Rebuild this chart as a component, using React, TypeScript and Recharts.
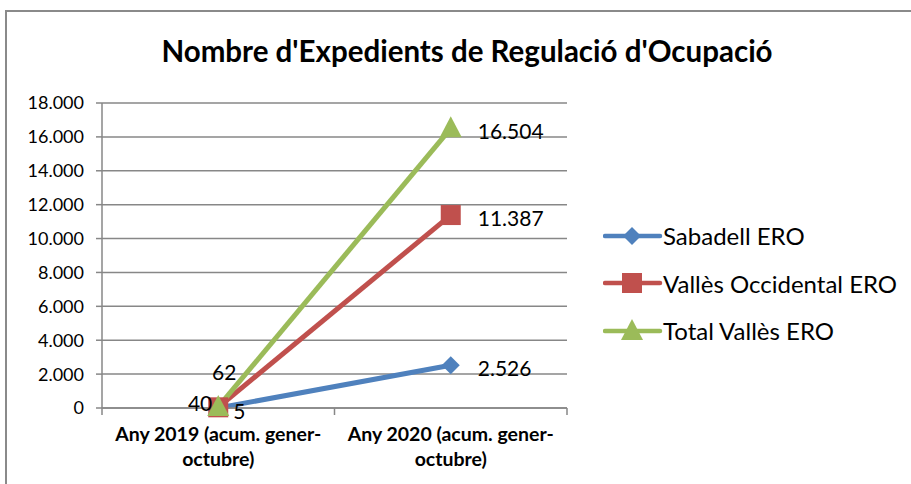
import React from "react";
import { CartesianGrid, ComposedChart, Line, XAxis, YAxis } from "recharts";

const categories = ["Any 2019 (acum. gener-octubre)", "Any 2020 (acum. gener-octubre)"];
const categoryLines = [
  ["Any 2019 (acum. gener-", "octubre)"],
  ["Any 2020 (acum. gener-", "octubre)"],
];
const sabadell = [5, 2526];
const vallesOccidental = [40, 11387];
const totalValles = [62, 16504];
const yTicks = [0, 2000, 4000, 6000, 8000, 10000, 12000, 14000, 16000, 18000];

const W = 911;
const H = 484;
const PLOT_LEFT = 102;
const PLOT_RIGHT = 567;
const PLOT_TOP = 103;
const PLOT_BOTTOM = 408;
const HALF_BAND = (PLOT_RIGHT - PLOT_LEFT) / categories.length / 2;
const FONT = "Lato, 'Open Sans', sans-serif";
const GRID = "#878787";

const data = categories.map((c, i) => ({
  cat: c,
  sab: sabadell[i],
  vo: vallesOccidental[i],
  tot: totalValles[i],
}));

const fmt = (v: number) => v.toString().replace(/\B(?=(\d{3})+(?!\d))/g, ".");

type Shape = "diamond" | "square" | "triangle";

const series: {
  key: string;
  name: string;
  color: string;
  shape: Shape;
  // label offsets per point: dx, dy, anchor
  labels: [number, number, "start" | "middle" | "end"][];
}[] = [
  { key: "sab", name: "Sabadell ERO", color: "#4F81BD", shape: "diamond", labels: [[15, 3, "start"], [27, 2, "start"]] },
  { key: "vo", name: "Vallès Occidental ERO", color: "#C0504D", shape: "square", labels: [[-6, -5, "end"], [27, 2, "start"]] },
  { key: "tot", name: "Total Vallès ERO", color: "#9BBB59", shape: "triangle", labels: [[6, -35, "middle"], [27, 2, "start"]] },
];

function Marker({ cx, cy, shape, color }: { cx: number; cy: number; shape: Shape; color: string }) {
  if (shape === "diamond") {
    return <polygon points={`${cx},${cy - 9} ${cx + 9},${cy} ${cx},${cy + 9} ${cx - 9},${cy}`} fill={color} />;
  }
  if (shape === "square") {
    return <rect x={cx - 10} y={cy - 10} width={20} height={20} fill={color} />;
  }
  return <polygon points={`${cx},${cy - 12} ${cx + 11},${cy + 9} ${cx - 11},${cy + 9}`} fill={color} />;
}

function XTick(props: { x?: number; y?: number; index?: number }) {
  const { x = 0, y = 0, index = 0 } = props;
  const lines = categoryLines[index];
  return (
    <g>
      <line x1={x - HALF_BAND} x2={x - HALF_BAND} y1={y - 8} y2={y - 1} stroke={GRID} strokeWidth={1.5} />
      {index === categories.length - 1 ? (
        <line x1={x + HALF_BAND} x2={x + HALF_BAND} y1={y - 8} y2={y - 1} stroke={GRID} strokeWidth={1.5} />
      ) : null}
      {lines.map((l, i) => (
        <text
          key={i}
          x={x}
          y={y + 25 + i * 25}
          textAnchor="middle"
          fontFamily={FONT}
          fontWeight={700}
          fontSize={19.5}
          fill="#000"
        >
          {l}
        </text>
      ))}
    </g>
  );
}

function LegendBox() {
  return (
    <div style={{ fontFamily: FONT, fontSize: 24, color: "#000" }}>
      {series.map((s) => (
        <div key={s.key} style={{ display: "flex", alignItems: "center", height: 47.5 }}>
          <svg width={60} height={24} style={{ display: "block" }}>
            <line x1={2} x2={57} y1={12} y2={12} stroke={s.color} strokeWidth={4.5} strokeLinecap="round" />
            <Marker cx={29} cy={12} shape={s.shape} color={s.color} />
          </svg>
          <span style={{ whiteSpace: "nowrap" }}>{s.name}</span>
        </div>
      ))}
    </div>
  );
}

export default function App() {
  return (
    <div style={{ position: "absolute", left: 0, top: 0, width: W, height: H, background: "#fff", overflow: "hidden" }}>
      <div
        style={{
          position: "absolute",
          left: 5,
          top: 10,
          width: W + 20,
          height: H + 20,
          border: "2px solid #8a8a8a",
          boxSizing: "border-box",
        }}
      />
      <div
        style={{
          position: "absolute",
          left: 0,
          width: 934,
          top: 33,
          textAlign: "center",
          fontFamily: FONT,
          fontWeight: 700,
          fontSize: 29.5,
          color: "#000",
        }}
      >
        Nombre d'Expedients de Regulació d'Ocupació
      </div>
      <div style={{ position: "absolute", left: 603, top: 212 }}>
        <LegendBox />
      </div>
      <ComposedChart
        width={W}
        height={H}
        data={data}
        margin={{ top: PLOT_TOP, left: 0, right: W - PLOT_RIGHT, bottom: 0 }}
        style={{ position: "absolute", left: 0, top: 0 }}
      >
        <CartesianGrid vertical={false} stroke={GRID} strokeWidth={1.5} />
        <XAxis
          dataKey="cat"
          type="category"
          scale="band"
          height={H - PLOT_BOTTOM}
          axisLine={{ stroke: GRID, strokeWidth: 1.5 }}
          tickLine={false}
          tick={<XTick />}
          interval={0}
        />
        <YAxis
          type="number"
          domain={[0, 18000]}
          ticks={yTicks}
          width={PLOT_LEFT}
          tickFormatter={fmt}
          axisLine={{ stroke: GRID, strokeWidth: 1.5 }}
          tickLine={{ stroke: GRID, strokeWidth: 1.5 }}
          tickSize={6}
          tickMargin={12}
          tick={{ fill: "#000", fontSize: 18, fontFamily: FONT }}
        />
        {series.map((s) => (
          <Line
            key={s.key}
            dataKey={s.key}
            name={s.name}
            type="linear"
            stroke={s.color}
            strokeWidth={5}
            isAnimationActive={false}
            dot={(p: { cx?: number; cy?: number; index?: number }) => (
              <Marker key={`${s.key}-${p.index}`} cx={p.cx ?? 0} cy={p.cy ?? 0} shape={s.shape} color={s.color} />
            )}
            activeDot={false}
            label={(p: { x?: number; y?: number; value?: number; index?: number }) => {
              const [dx, dy, anchor] = s.labels[p.index ?? 0];
              return (
                <text
                  key={`${s.key}-l${p.index}`}
                  x={(p.x ?? 0) + dx}
                  y={(p.y ?? 0) + dy}
                  textAnchor={anchor}
                  dominantBaseline="central"
                  fontFamily={FONT}
                  fontSize={21}
                  fill="#000"
                >
                  {fmt(p.value ?? 0)}
                </text>
              );
            }}
          />
        ))}
      </ComposedChart>
    </div>
  );
}
